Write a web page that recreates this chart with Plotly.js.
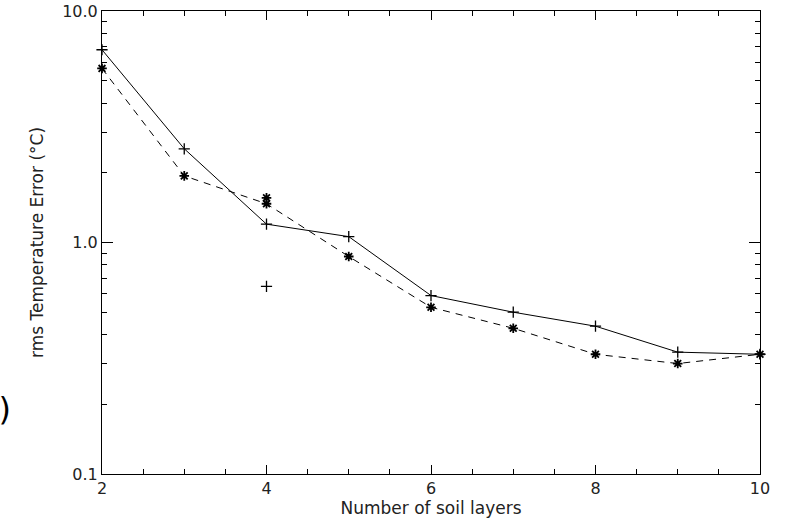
<!DOCTYPE html>
<html>
<head>
<meta charset="utf-8">
<script src="https://cdn.plot.ly/plotly-3.0.1.min.js"></script>
<style>html,body{margin:0;padding:0;background:#fff;}#chart{width:790px;height:523px;}</style>
</head>
<body>
<div id="chart"></div>
<script>
// Number of soil layers
var layers = [2, 3, 4, 5, 6, 7, 8, 9, 10];
// solid line with "+" markers
var rmsSolid = [6.8, 2.54, 1.20, 1.06, 0.59, 0.50, 0.435, 0.336, 0.329];
// dashed line with "*" markers
var rmsDashed = [5.65, 1.94, 1.47, 0.87, 0.525, 0.426, 0.329, 0.30, 0.329];
// extra isolated points at 4 layers
var extraPlusX = [4];
var extraPlusY = [0.647];
var extraStarX = [4];
var extraStarY = [1.56];

var yTickVals = [0.1, 1, 10];
var yTickText = ['0.1', '1.0', '10.0'];
var yMinorVals = [0.2,0.3,0.4,0.5,0.6,0.7,0.8,0.9,2,3,4,5,6,7,8,9];
var xTickVals = [2, 4, 6, 8, 10];

var ink = '#000';
var tickFont = {family: 'DejaVu Sans, sans-serif', size: 16, color: '#222'};
var titleFont = {family: 'DejaVu Sans, sans-serif', size: 17, color: '#222'};

var plusMarker = {symbol: 'cross-thin-open', size: 8, color: ink, line: {color: ink, width: 1.3}};
var starMarker = {symbol: 'asterisk-open', size: 8, color: ink, line: {color: ink, width: 1.8}};

var traces = [
  {x: layers, y: rmsSolid, type: 'scatter', mode: 'lines+markers',
   line: {color: ink, width: 1}, marker: plusMarker, cliponaxis: false},
  {x: layers, y: rmsDashed, type: 'scatter', mode: 'lines+markers',
   line: {color: ink, width: 1, dash: '7px,6px'}, marker: starMarker, cliponaxis: false},
  {x: extraPlusX, y: extraPlusY, type: 'scatter', mode: 'markers', marker: plusMarker},
  {x: extraStarX, y: extraStarY, type: 'scatter', mode: 'markers', marker: starMarker}
];

var layout = {
  width: 790, height: 523,
  margin: {l: 102, r: 30, t: 11, b: 49},
  paper_bgcolor: '#fff', plot_bgcolor: '#fff',
  showlegend: false,
  font: tickFont,
  xaxis: {
    range: [2, 10], tickvals: xTickVals, ticks: 'inside', ticklen: 9, tickwidth: 1,
    tickcolor: ink, showgrid: false, zeroline: false, showline: true, linecolor: ink,
    linewidth: 1, mirror: 'allticks',
    minor: {dtick: 0.5, ticks: 'inside', ticklen: 5, tickcolor: ink, showgrid: false},
    tickfont: tickFont,
    title: {text: 'Number of soil layers', font: titleFont, standoff: 3}
  },
  yaxis: {
    type: 'log', range: [-1, 1], tickvals: yTickVals, ticktext: yTickText,
    ticks: 'inside', ticklen: 11, tickwidth: 1, tickcolor: ink, showgrid: false,
    zeroline: false, showline: true, linecolor: ink, linewidth: 1, mirror: 'allticks',
    minor: {tickvals: yMinorVals, ticks: 'inside', ticklen: 5, tickcolor: ink, showgrid: false},
    tickfont: tickFont,
    title: {text: 'rms Temperature Error (°C)', font: titleFont, standoff: 14}
  },
  annotations: [
    {text: 'a)', xref: 'paper', yref: 'paper', x: -0.135, y: 0.14,
     xanchor: 'right', yanchor: 'middle', showarrow: false,
     font: {family: 'DejaVu Sans, sans-serif', size: 32, color: '#000'}}
  ]
};

Plotly.newPlot('chart', traces, layout, {displayModeBar: false, staticPlot: true});
</script>
</body>
</html>
